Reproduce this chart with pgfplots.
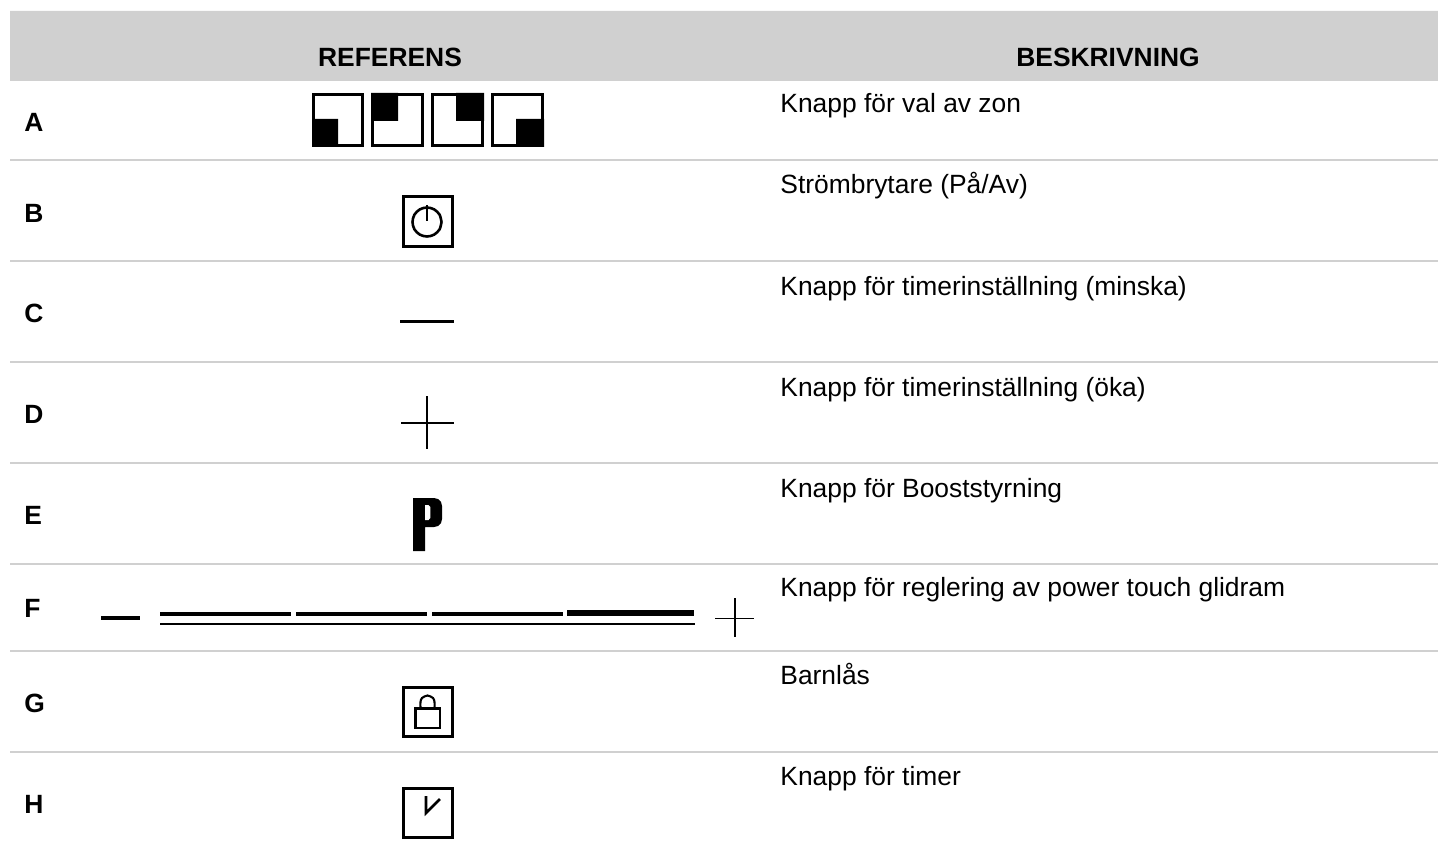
\documentclass[border=0pt]{standalone}
\usepackage{pgfplots}
\pgfplotsset{compat=1.18}
\usepackage{fontspec}
\setmainfont{Liberation Sans}
\definecolor{hdr}{HTML}{D0D0D0}
\tikzset{
  lab/.style={font=\fontsize{13.2}{15}\selectfont\bfseries, anchor=base west, inner sep=0pt},
  desc/.style={font=\fontsize{13.2}{15}\selectfont, anchor=base west, inner sep=0pt},
  head/.style={font=\fontsize{13.2}{15}\selectfont\bfseries, anchor=base, inner sep=0pt},
  ic/.style={black, line width=1.5pt, line join=miter, line cap=rect},
  blk/.style={fill=black, draw=none},
  wht/.style={fill=white, draw=none},
}
\begin{document}
\begin{tikzpicture}
\begin{axis}[
  scale only axis, width=719pt, height=422.5pt,
  xmin=0, xmax=1438, ymin=0, ymax=845, y dir=reverse,
  axis line style={draw=none}, xtick=\empty, ytick=\empty,
  clip=true,
  every axis plot/.append style={no marks},
]
% header band and rules
\addplot[fill=hdr, draw=none] coordinates {(10,11) (1438,11) (1438,81) (10,81) (10,11)};
\pgfplotsinvokeforeach{160,261,362,463,564,651,752}{
  \addplot[hdr, line width=1pt] coordinates {(10,#1) (1438,#1)};
}
% A: zone icons
\addplot[ic] coordinates {(313.5,94.5) (362.5,94.5) (362.5,145.5) (313.5,145.5) (313.5,94.5)};
\addplot[ic] coordinates {(372.5,94.5) (422.5,94.5) (422.5,145.5) (372.5,145.5) (372.5,94.5)};
\addplot[ic] coordinates {(432.5,94.5) (482.5,94.5) (482.5,145.5) (432.5,145.5) (432.5,94.5)};
\addplot[ic] coordinates {(492.5,94.5) (542.5,94.5) (542.5,145.5) (492.5,145.5) (492.5,94.5)};
\addplot[blk] coordinates {(312,119) (338,119) (338,147) (312,147) (312,119)};
\addplot[blk] coordinates {(371,93) (398,93) (398,121) (371,121) (371,93)};
\addplot[blk] coordinates {(456,93) (484,93) (484,121) (456,121) (456,93)};
\addplot[blk] coordinates {(516,119) (544,119) (544,147) (516,147) (516,119)};
% B: power
\addplot[ic] coordinates {(403.5,196.5) (452.5,196.5) (452.5,246.5) (403.5,246.5) (403.5,196.5)};
\addplot[black, line width=1.3pt, smooth, tension=0.55] coordinates {(441.5,222) (439.6,214.7) (434.2,209.4) (427,207.5) (419.8,209.4) (414.4,214.7) (412.5,222) (414.4,229.3) (419.8,234.6) (427,236.5) (434.2,234.6) (439.6,229.3) (441.5,222)};
\addplot[black, line width=1.1pt] coordinates {(427,205) (427,221)};
% C: minus
\addplot[black, line width=1.6pt] coordinates {(400,321.5) (454,321.5)};
% D: plus
\addplot[black, line width=1.05pt] coordinates {(401,422.7) (454,422.7)};
\addplot[black, line width=1.05pt] coordinates {(427.3,396) (427.3,449)};
% E: P
\addplot[blk] coordinates {(413,498) (434,498) (438,499) (441,502) (442,506) (442,519) (441,523) (438,526) (434,527) (425,527) (425,551) (413,551) (413,498)};
\addplot[wht] coordinates {(425,505) (428.5,505) (430.4,507) (430.4,518) (428.5,520) (425,520) (425,505)};
% F: slider
\addplot[black, line width=1.6pt] coordinates {(101,618) (140,618)};
\addplot[black, line width=1.6pt] coordinates {(160,614) (291,614)};
\addplot[black, line width=1.6pt] coordinates {(296,614) (427,614)};
\addplot[black, line width=1.6pt] coordinates {(432,614) (563,614)};
\addplot[black, line width=2.6pt] coordinates {(567,613) (694,613)};
\addplot[black, line width=1.15pt] coordinates {(160,624) (695,624)};
\addplot[black, line width=0.7pt] coordinates {(715,618.5) (754,618.5)};
\addplot[black, line width=0.7pt] coordinates {(735,598) (735,637)};
% G: lock
\addplot[ic] coordinates {(403.5,687.5) (452.5,687.5) (452.5,736.5) (403.5,736.5) (403.5,687.5)};
\addplot[black, line width=1.05pt, line cap=rect] coordinates {(415.5,708.5) (440,708.5) (440,728) (415.5,728) (415.5,708.5)};
\addplot[black, line width=1.05pt, smooth] coordinates {(420.5,708) (420.5,702) (422,698) (427.5,695.5) (433,698) (434.5,702) (434.5,708)};
% H: timer
\addplot[ic] coordinates {(403.5,788.5) (452.5,788.5) (452.5,837.5) (403.5,837.5) (403.5,788.5)};
\addplot[black, line width=1.3pt, line join=miter] coordinates {(426,796) (426,813) (440,799)};
% text
\node[head] at (axis cs:390,67) {REFERENS};
\node[head] at (axis cs:1108,67) {BESKRIVNING};
\node[lab] at (axis cs:24,132) {A};
\node[lab] at (axis cs:24,222) {B};
\node[lab] at (axis cs:24,322) {C};
\node[lab] at (axis cs:24,423) {D};
\node[lab] at (axis cs:24,524) {E};
\node[lab] at (axis cs:24,617) {F};
\node[lab] at (axis cs:24,712) {G};
\node[lab] at (axis cs:24,813) {H};
\node[desc] at (axis cs:780,113) {Knapp för val av zon};
\node[desc] at (axis cs:780,194) {Strömbrytare (På/Av)};
\node[desc] at (axis cs:780,295) {Knapp för timerinställning (minska)};
\node[desc] at (axis cs:780,396) {Knapp för timerinställning (öka)};
\node[desc] at (axis cs:780,497) {Knapp för Booststyrning};
\node[desc] at (axis cs:780,596) {Knapp för reglering av power touch glidram};
\node[desc] at (axis cs:780,684) {Barnlås};
\node[desc] at (axis cs:780,785) {Knapp för timer};
\end{axis}
\end{tikzpicture}
\end{document}
